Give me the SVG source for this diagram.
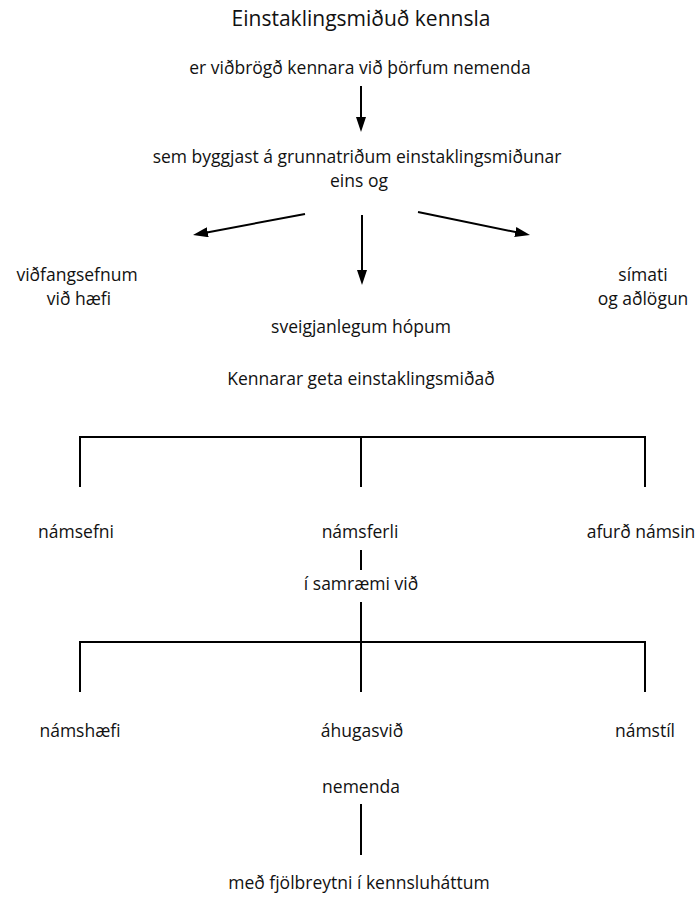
<svg xmlns="http://www.w3.org/2000/svg" width="695" height="900" viewBox="0 0 695 900">
  <defs>
    <style>
      .t { font-family: "Open Sans", "Noto Sans", "DejaVu Sans", sans-serif; font-size: 17.5px; fill: #111; text-anchor: middle; }
      .title { font-size: 21px; }
      .ln { stroke: #000; stroke-width: 2; fill: none; }
    </style>
    <marker id="ah" markerUnits="userSpaceOnUse" markerWidth="15" markerHeight="10" refX="9" refY="5" orient="auto">
      <path d="M0,0 L15,5 L0,10 z" fill="#000"/>
    </marker>
  </defs>
  <rect width="695" height="900" fill="#fff"/>

  <g id="connectors">
    <line class="ln" x1="361" y1="86" x2="361" y2="126" marker-end="url(#ah)"/>
    <line class="ln" x1="305" y1="214" x2="198.9" y2="233.9" marker-end="url(#ah)"/>
    <line class="ln" x1="362" y1="215" x2="362" y2="279" marker-end="url(#ah)"/>
    <line class="ln" x1="418" y1="212" x2="524.1" y2="233.8" marker-end="url(#ah)"/>
    <path class="ln" d="M80,487 V437 H645 V487 M361,437 V487"/>
    <line class="ln" x1="361" y1="550" x2="361" y2="570"/>
    <line class="ln" x1="361" y1="602" x2="361" y2="692"/>
    <path class="ln" d="M80,692 V642 H645 V692"/>
    <line class="ln" x1="361" y1="804" x2="361" y2="855"/>
  </g>

  <g id="title"><text class="t title" x="361" y="26">Einstaklingsmiðuð kennsla</text></g>
  <g id="vidbrogd"><text class="t" x="360" y="74">er viðbrögð kennara við þörfum nemenda</text></g>
  <g id="grunnatridi">
    <text class="t" x="357" y="163">sem byggjast á grunnatriðum einstaklingsmiðunar</text>
    <text class="t" x="359" y="187">eins og</text>
  </g>
  <g id="vidfangsefni">
    <text class="t" x="77" y="281">viðfangsefnum</text>
    <text class="t" x="79" y="305">við hæfi</text>
  </g>
  <g id="simati">
    <text class="t" x="643" y="281">símati</text>
    <text class="t" x="643" y="305">og aðlögun</text>
  </g>
  <g id="hopar"><text class="t" x="361" y="333">sveigjanlegum hópum</text></g>
  <g id="kennarar"><text class="t" x="361" y="385">Kennarar geta einstaklingsmiðað</text></g>
  <g id="namsefni"><text class="t" x="76" y="538">námsefni</text></g>
  <g id="namsferli"><text class="t" x="360" y="538">námsferli</text></g>
  <g id="afurd"><text class="t" x="641" y="538">afurð námsin</text></g>
  <g id="samraemi"><text class="t" x="361" y="590">í samræmi við</text></g>
  <g id="namshaefi"><text class="t" x="80" y="737">námshæfi</text></g>
  <g id="ahugasvid"><text class="t" x="362" y="737">áhugasvið</text></g>
  <g id="namstil"><text class="t" x="645" y="737">námstíl</text></g>
  <g id="nemenda"><text class="t" x="361" y="793">nemenda</text></g>
  <g id="fjolbreytni"><text class="t" x="359" y="889">með fjölbreytni í kennsluháttum</text></g>
</svg>
